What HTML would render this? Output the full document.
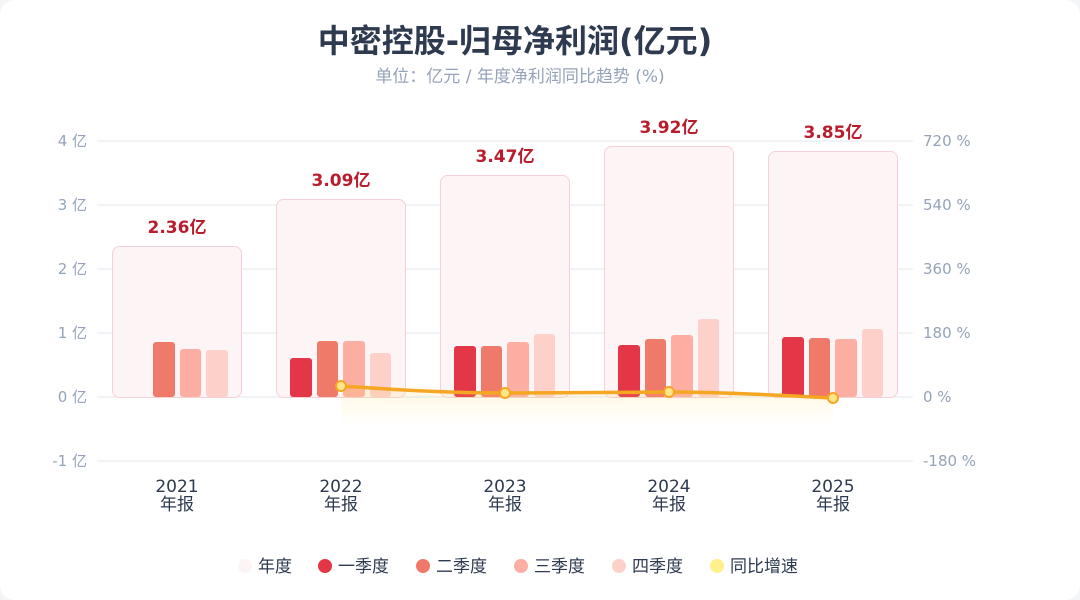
<!DOCTYPE html>
<html><head><meta charset="utf-8"><style>
html,body{margin:0;padding:0;background:#f3f4f6;}
.card{position:absolute;left:0;top:0;width:1080px;height:600px;background:#fff;border-radius:14px;overflow:hidden}
svg text{font-family:"DejaVu Sans","Noto Sans CJK SC",sans-serif}
</style></head><body><div class="card">
<svg width="1080" height="600" viewBox="0 0 1080 600" xmlns="http://www.w3.org/2000/svg">
<defs>
<linearGradient id="glow" x1="0" y1="0" x2="0" y2="1"><stop offset="0" stop-color="#fcd34d" stop-opacity="0.18"/><stop offset="1" stop-color="#fcd34d" stop-opacity="0"/></linearGradient>
</defs>
<text x="515" y="52" text-anchor="middle" font-size="32" font-weight="bold" fill="#2d3a4f">中密控股-归母净利润(亿元)</text>
<text x="520" y="82" text-anchor="middle" font-size="17" fill="#94a3b8">单位：亿元 / 年度净利润同比趋势 (%)</text>
<g stroke="#e2e8f0" stroke-width="1">
<line x1="97" x2="913" y1="141" y2="141"/><line x1="97" x2="913" y1="205" y2="205"/><line x1="97" x2="913" y1="269" y2="269"/><line x1="97" x2="913" y1="333" y2="333"/><line x1="97" x2="913" y1="397" y2="397"/><line x1="97" x2="913" y1="461" y2="461"/>
</g>
<g font-size="15" fill="#94a3b8" text-anchor="end">
<text x="87" y="146">4 亿</text><text x="87" y="210">3 亿</text><text x="87" y="274">2 亿</text><text x="87" y="338">1 亿</text><text x="87" y="402">0 亿</text><text x="87" y="466">-1 亿</text>
</g>
<g font-size="15" fill="#94a3b8">
<text x="923" y="146">720 %</text><text x="923" y="210">540 %</text><text x="923" y="274">360 %</text><text x="923" y="338">180 %</text><text x="923" y="402">0 %</text><text x="923" y="466">-180 %</text>
</g>
<g fill="#fdf4f5" stroke="#f5d0d6" stroke-width="1">
<rect x="112.5" y="246.5" width="129" height="151" rx="7"/>
<rect x="276.5" y="199.5" width="129" height="198" rx="7"/>
<rect x="440.5" y="175.5" width="129" height="222" rx="7"/>
<rect x="604.5" y="146.5" width="129" height="251" rx="7"/>
<rect x="768.5" y="151.5" width="129" height="246" rx="7"/>
</g>
<g font-size="17" font-weight="bold" fill="#b91c2c" text-anchor="middle">
<text x="177" y="233">2.36亿</text><text x="341" y="186">3.09亿</text><text x="505" y="162">3.47亿</text><text x="669" y="133">3.92亿</text><text x="833" y="138">3.85亿</text>
</g>
<g>
<rect x="153" y="342" width="22" height="55" rx="3" fill="#f07a6a"/>
<rect x="180" y="349" width="21" height="48" rx="3" fill="#fcaea3"/>
<rect x="206" y="350" width="22" height="47" rx="3" fill="#fdd0ca"/>
<rect x="290" y="358" width="22" height="39" rx="3" fill="#e33646"/>
<rect x="317" y="341" width="21" height="56" rx="3" fill="#f07a6a"/>
<rect x="343" y="341" width="22" height="56" rx="3" fill="#fcaea3"/>
<rect x="370" y="353" width="21" height="44" rx="3" fill="#fdd0ca"/>
<rect x="454" y="346" width="22" height="51" rx="3" fill="#e33646"/>
<rect x="481" y="346" width="21" height="51" rx="3" fill="#f07a6a"/>
<rect x="507" y="342" width="22" height="55" rx="3" fill="#fcaea3"/>
<rect x="534" y="334" width="21" height="63" rx="3" fill="#fdd0ca"/>
<rect x="618" y="345" width="22" height="52" rx="3" fill="#e33646"/>
<rect x="645" y="339" width="21" height="58" rx="3" fill="#f07a6a"/>
<rect x="671" y="335" width="22" height="62" rx="3" fill="#fcaea3"/>
<rect x="698" y="319" width="21" height="78" rx="3" fill="#fdd0ca"/>
<rect x="782" y="337" width="22" height="60" rx="3" fill="#e33646"/>
<rect x="809" y="338" width="21" height="59" rx="3" fill="#f07a6a"/>
<rect x="835" y="339" width="22" height="58" rx="3" fill="#fcaea3"/>
<rect x="862" y="329" width="21" height="68" rx="3" fill="#fdd0ca"/>
</g>
<path d="M341,386 C400,390 450,393 505,393 C560,393 620,392 669,392 C730,392 790,396 833,398 L833,425 L341,425 Z" fill="url(#glow)"/>
<path d="M341,386 C400,390 450,393 505,393 C560,393 620,392 669,392 C730,392 790,396 833,398" fill="none" stroke="#f5a623" stroke-width="3.5"/>
<g fill="#fde68a" stroke="#f5a623" stroke-width="2">
<circle cx="341" cy="386" r="5"/><circle cx="505" cy="393" r="5"/><circle cx="669" cy="392" r="5"/><circle cx="833" cy="398" r="5"/>
</g>
<g font-size="17" fill="#2d3a4f" text-anchor="middle">
<text x="177" y="492">2021</text><text x="177" y="510">年报</text>
<text x="341" y="492">2022</text><text x="341" y="510">年报</text>
<text x="505" y="492">2023</text><text x="505" y="510">年报</text>
<text x="669" y="492">2024</text><text x="669" y="510">年报</text>
<text x="833" y="492">2025</text><text x="833" y="510">年报</text>
</g>
<g font-size="17" fill="#2d3a4f">
<circle cx="245" cy="566" r="7" fill="#fdf4f5"/><text x="258" y="572">年度</text>
<circle cx="325" cy="566" r="7" fill="#e33646"/><text x="338" y="572">一季度</text>
<circle cx="423" cy="566" r="7" fill="#f07a6a"/><text x="436" y="572">二季度</text>
<circle cx="521" cy="566" r="7" fill="#fcaea3"/><text x="534" y="572">三季度</text>
<circle cx="619" cy="566" r="7" fill="#fdd0ca"/><text x="632" y="572">四季度</text>
<circle cx="717" cy="566" r="7" fill="#fef08a"/><text x="730" y="572">同比增速</text>
</g>
</svg></div></body></html>
